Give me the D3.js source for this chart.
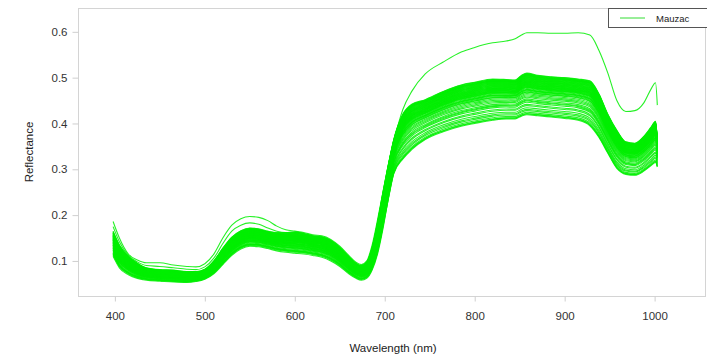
<!DOCTYPE html>
<html>
<head>
<meta charset="utf-8">
<script src="https://cdn.jsdelivr.net/npm/d3@7"></script>
<style>
  body { margin: 0; background: #fff; }
  svg { font-family: "Liberation Sans", Arial, sans-serif; }
</style>
</head>
<body>
<div id="chart"></div>
<script>
// wavelengths sampled (nm)
const wavelengths = [398, 405, 415, 425, 435, 450, 465, 480, 490, 500, 510, 520, 530, 540, 550, 560, 570, 580, 590, 600,
  610, 620, 630, 640, 650, 660, 668, 674, 680, 686, 692, 698, 704, 710, 720, 730, 745, 765, 785, 800,
  820, 835, 845, 852, 858, 870, 885, 900, 915, 928, 938, 948, 958, 968, 978, 988, 996, 1001, 1003];

// lower edge of the bundle
const bandLow = [0.110, 0.085, 0.070, 0.062, 0.058, 0.056, 0.054, 0.053, 0.055, 0.060, 0.072, 0.092, 0.112, 0.126, 0.132, 0.131, 0.127, 0.122, 0.119, 0.117,
  0.115, 0.112, 0.108, 0.100, 0.088, 0.072, 0.062, 0.058, 0.062, 0.080, 0.115, 0.170, 0.235, 0.290, 0.322, 0.343, 0.365, 0.382, 0.394, 0.400,
  0.407, 0.410, 0.410, 0.416, 0.419, 0.417, 0.414, 0.411, 0.407, 0.395, 0.370, 0.335, 0.302, 0.289, 0.287, 0.296, 0.308, 0.315, 0.305];

// upper edge of the bundle
const bandHigh = [0.165, 0.135, 0.110, 0.095, 0.085, 0.081, 0.080, 0.077, 0.077, 0.082, 0.100, 0.128, 0.152, 0.166, 0.172, 0.170, 0.165, 0.162, 0.162, 0.163,
  0.160, 0.155, 0.153, 0.145, 0.130, 0.110, 0.095, 0.090, 0.098, 0.130, 0.185, 0.250, 0.310, 0.365, 0.420, 0.442, 0.452, 0.470, 0.484, 0.490,
  0.497, 0.496, 0.495, 0.505, 0.510, 0.505, 0.502, 0.500, 0.497, 0.493, 0.465, 0.420, 0.385, 0.360, 0.357, 0.372, 0.392, 0.405, 0.365];

// the two leaves standing out above the bundle
const outlierTop = [0.186, 0.150, 0.115, 0.102, 0.096, 0.096, 0.091, 0.088, 0.087, 0.094, 0.115, 0.150, 0.178, 0.192, 0.197, 0.195, 0.188, 0.176, 0.168, 0.165,
  0.162, 0.157, 0.155, 0.147, 0.132, 0.112, 0.097, 0.092, 0.100, 0.135, 0.190, 0.250, 0.310, 0.360, 0.430, 0.470, 0.508, 0.534, 0.556, 0.566,
  0.576, 0.580, 0.585, 0.593, 0.598, 0.598, 0.597, 0.597, 0.598, 0.593, 0.560, 0.510, 0.450, 0.426, 0.428, 0.445, 0.475, 0.489, 0.440];
const outlierSecond = [0.175, 0.142, 0.112, 0.098, 0.090, 0.088, 0.085, 0.082, 0.081, 0.087, 0.106, 0.138, 0.165, 0.178, 0.183, 0.180, 0.172, 0.165, 0.162, 0.163,
  0.160, 0.155, 0.152, 0.144, 0.128, 0.108, 0.093, 0.088, 0.096, 0.128, 0.182, 0.245, 0.305, 0.360, 0.415, 0.438, 0.449, 0.466, 0.480, 0.486,
  0.493, 0.492, 0.491, 0.501, 0.506, 0.501, 0.498, 0.496, 0.493, 0.489, 0.461, 0.416, 0.381, 0.356, 0.353, 0.368, 0.388, 0.401, 0.362];

// position of each leaf inside the bundle (0 = low edge, 1 = high edge), visible and NIR parts
const visLevels = [0.00, 0.05, 0.10, 0.14, 0.18, 0.22, 0.25, 0.28, 0.31, 0.34, 0.36, 0.38, 0.40, 0.42, 0.44, 0.46, 0.48, 0.50, 0.52, 0.54,
  0.56, 0.58, 0.60, 0.62, 0.63, 0.65, 0.66, 0.68, 0.70, 0.71, 0.73, 0.74, 0.76, 0.77, 0.79, 0.80, 0.82, 0.83, 0.85, 0.87,
  0.88, 0.90, 0.92, 0.94, 0.96, 0.98, 1.00, 0.12, 0.33, 0.57, 0.69, 0.81, 0.93, 0.45, 0.26, 0.64, 0.75, 0.86, 0.08, 0.52];
const nirLevels = [0.02, 0.00, 0.06, 0.10, 0.13, 0.17, 0.22, 0.25, 0.30, 0.33, 0.38, 0.42, 0.45, 0.48, 0.51, 0.54, 0.57, 0.59, 0.61, 0.63,
  0.65, 0.67, 0.69, 0.70, 0.72, 0.74, 0.75, 0.77, 0.78, 0.80, 0.81, 0.83, 0.84, 0.85, 0.87, 0.88, 0.89, 0.90, 0.92, 0.93,
  0.94, 0.95, 0.96, 0.97, 0.98, 0.99, 1.00, 0.91, 0.86, 0.79, 0.73, 0.66, 0.60, 0.55, 0.71, 0.82, 0.76, 0.68, 0.03, 0.35];

const xTicks = [400, 500, 600, 700, 800, 900, 1000];
const yTicks = [0.1, 0.2, 0.3, 0.4, 0.5, 0.6];
const legendLabel = "Mauzac";

const width = 707, height = 356;
const frame = { left: 78, top: 8, right: 705, bottom: 296 };

const svg = d3.select("#chart").append("svg")
  .attr("width", width)
  .attr("height", height);

const x = d3.scaleLinear().domain([359, 1056]).range([frame.left, frame.right]);
const y = d3.scaleLinear().domain([0.0235, 0.652]).range([frame.bottom, frame.top]);

// plot frame
svg.append("rect")
  .attr("x", frame.left + 0.5).attr("y", frame.top + 0.5)
  .attr("width", frame.right - frame.left).attr("height", frame.bottom - frame.top)
  .attr("fill", "none").attr("stroke", "#d4d4d4");

// axes
const xAxis = svg.append("g")
  .attr("transform", "translate(0," + (frame.bottom + 0.5) + ")")
  .call(d3.axisBottom(x).tickValues(xTicks).tickSize(5).tickPadding(10).tickFormat(d3.format("d")));
const yAxis = svg.append("g")
  .attr("transform", "translate(" + (frame.left + 0.5) + ",0)")
  .call(d3.axisLeft(y).tickValues(yTicks).tickSize(6).tickPadding(5).tickFormat(d3.format(".1f")));

[xAxis, yAxis].forEach(a => {
  a.select(".domain").remove();
  a.selectAll(".tick line").attr("stroke", "#cfcfcf");
  a.selectAll(".tick text").attr("fill", "#333").style("font-size", "11.5px");
});

// axis titles
svg.append("text")
  .attr("x", 393).attr("y", 352)
  .attr("text-anchor", "middle").attr("fill", "#222").style("font-size", "11.5px")
  .text("Wavelength (nm)");
svg.append("text")
  .attr("transform", "translate(33,152) rotate(-90)")
  .attr("text-anchor", "middle").attr("fill", "#222").style("font-size", "11.5px")
  .text("Reflectance");

// build spectra
const spectra = visLevels.map((v, k) => wavelengths.map((w, i) => {
  const f = w < 700 ? v : nirLevels[k];
  return [w, bandLow[i] + f * (bandHigh[i] - bandLow[i])];
}));
spectra.push(wavelengths.map((w, i) => [w, outlierSecond[i]]));
spectra.push(wavelengths.map((w, i) => [w, outlierTop[i]]));

const line = d3.line()
  .x(d => x(d[0]))
  .y(d => y(d[1]))
  .curve(d3.curveMonotoneX);

svg.append("g")
  .selectAll("path")
  .data(spectra)
  .enter()
  .append("path")
  .attr("d", line)
  .attr("fill", "none")
  .attr("stroke", "#00ee00")
  .attr("stroke-width", 1.1)
  .attr("stroke-opacity", 0.85);

// legend
const lg = svg.append("g");
lg.append("rect")
  .attr("x", 608.5).attr("y", 8.5).attr("width", 110).attr("height", 19)
  .attr("fill", "#fff").attr("stroke", "#555");
lg.append("line")
  .attr("x1", 620).attr("x2", 645).attr("y1", 18).attr("y2", 18)
  .attr("stroke", "#33dd33").attr("stroke-width", 1);
lg.append("text")
  .attr("x", 656).attr("y", 21.5)
  .attr("fill", "#222").style("font-size", "9.5px")
  .text(legendLabel);
</script>
</body>
</html>
